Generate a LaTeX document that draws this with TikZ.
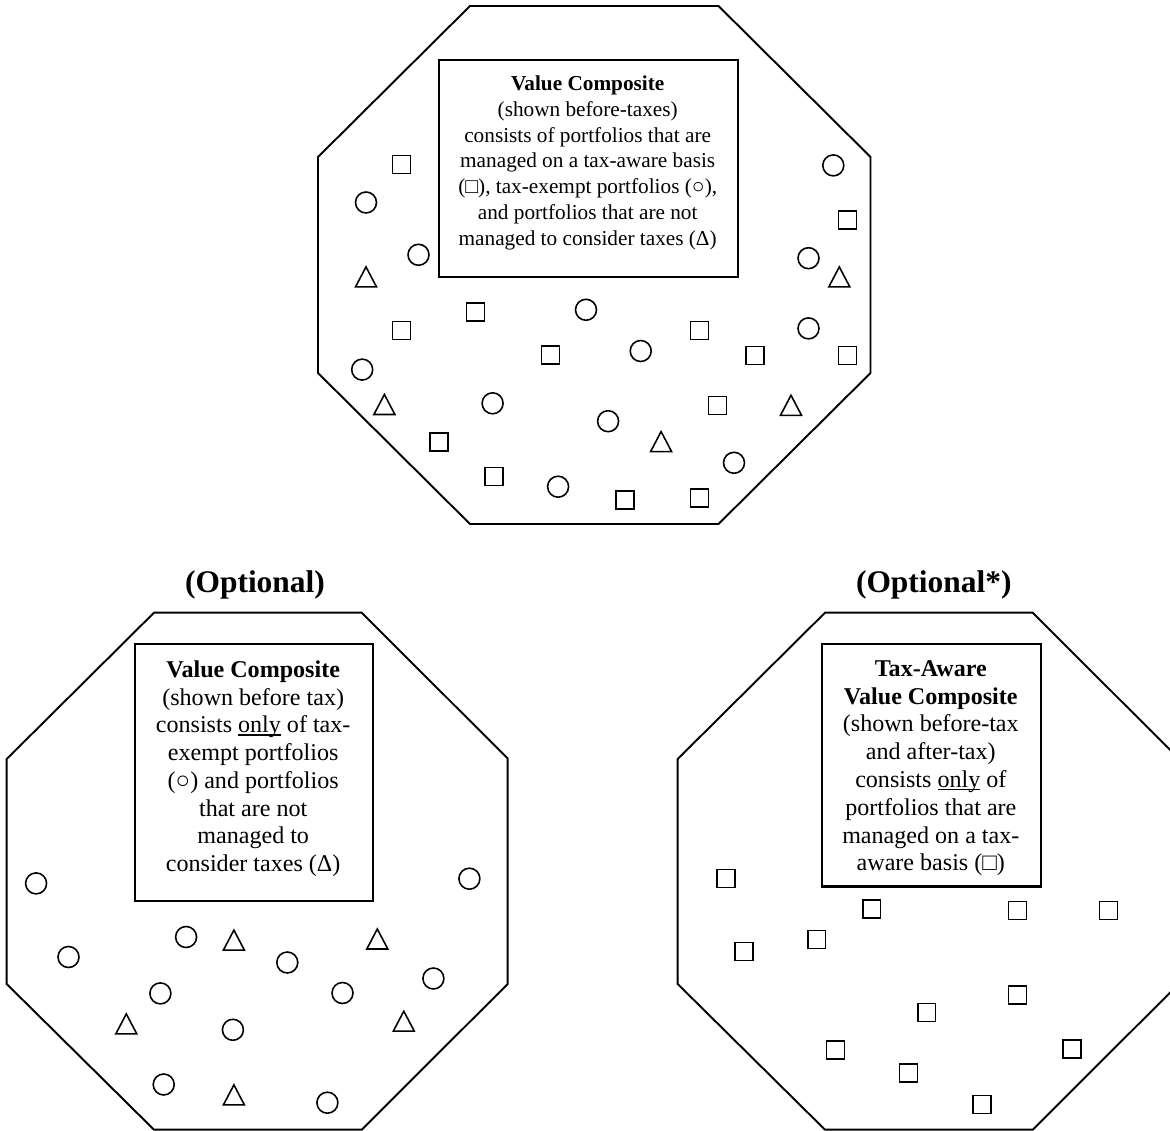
\documentclass[tikz,border=0pt]{standalone}
\usepackage{fontspec}
\setmainfont{Liberation Serif}
\usetikzlibrary{positioning}

\newsavebox\ulbox
\newcommand{\ulword}[1]{\sbox\ulbox{#1}\rlap{\rule[-0.12em]{\wd\ulbox}{0.055em}}\usebox\ulbox}

\begin{document}
\begin{tikzpicture}[x=0.02cm, y=-0.02cm,
        octo/.style = {line width=1.1pt, line join=miter},
        infobox/.style = {draw, line width=1.2pt, inner sep=0pt, anchor=north west},
        boxtext/.style = {align=center, inner sep=0pt, anchor=north},
        smalltext/.style = {font=\fontsize{12.1pt}{14.7pt}\selectfont},
        bigtext/.style = {font=\fontsize{13.7pt}{15.8pt}\selectfont},
        heading/.style = {font=\fontsize{17.9pt}{20pt}\selectfont\bfseries, anchor=base, inner sep=0pt},
        sqmark/.style = {draw, rectangle, minimum size=0.36cm, inner sep=0pt, line width=0.9pt},
        cmark/.style = {draw, circle, minimum size=0.42cm, inner sep=0pt, line width=0.9pt},
        tmark/.style = {line width=0.9pt, line join=miter}
        ]
        \useasboundingbox (0,0) rectangle (1170,1131);
        \clip (0,0) rectangle (1170,1131);

        % the three octagons
        \draw[octo] (470,6) -- (718.5,6) -- (870.5,157) -- (870.5,373) -- (718.5,524) -- (470,524) -- (318,373) -- (318,157) -- cycle;
        \draw[octo] (154,612.7) -- (361.7,612.7) -- (507.7,758.5) -- (507.7,984) -- (361.7,1129.7) -- (154,1129.7) -- (6.7,984) -- (6.7,759) -- cycle;
        \draw[octo] (825,612.7) -- (1032.7,612.7) -- (1178.7,758.5) -- (1178.7,984) -- (1032.7,1129.7) -- (825,1129.7) -- (677.7,984) -- (677.7,759) -- cycle;

        % boxes
        \node[infobox, minimum width=5.974cm, minimum height=4.334cm] (topbox) at (438.3,59.3) {};
        \node[infobox, minimum width=4.754cm, minimum height=5.15cm] (leftbox) at (134.3,642.5) {};
        \node[infobox, minimum width=4.38cm, minimum height=4.85cm] (rightbox) at (821.3,643) {};

        \node[boxtext, smalltext] (toptext) at (587.7,75.3) {\textbf{Value Composite}\\(shown before-taxes)\\consists of portfolios that are\\managed on a tax-aware basis\\(□), tax-exempt portfolios (○),\\and portfolios that are not\\managed to consider taxes (Δ)};
        \node[boxtext, bigtext] (lefttext) at (253.2,660.2) {\textbf{Value Composite}\\(shown before tax)\\consists \ulword{only} of tax-\\exempt portfolios\\(○) and portfolios\\that are not\\managed to\\consider taxes (Δ)};
        \node[boxtext, bigtext] (righttext) at (930.8,660.2) {\textbf{Tax-Aware}\\\textbf{Value Composite}\\(shown before-tax\\and after-tax)\\consists \ulword{only} of\\portfolios that are\\managed on a tax-\\aware basis (□)};

        \node[heading] (optL) at (255,593) {(Optional)};
        \node[heading] (optR) at (933.8,593) {(Optional*)};

        % top composite
        \foreach \x/\y [count=\i] in {401.5/164.4, 847.4/220, 475.6/312.2, 401.5/330.7, 550.4/355, 699.3/330.7, 754.8/355.5, 847.4/355.5, 717.4/405.5, 438.9/442, 494/476.5, 624.8/500, 699.3/498}
            \node[sqmark] (sqT\i) at (\x,\y) {};
        \foreach \x/\y [count=\i] in {833.3/165.4, 366/202.5, 418.5/254.8, 808.5/258.2, 586/309.8, 808.5/328.4, 640.7/351, 362.2/369.6, 492.6/403.3, 608.1/421.2, 734/462.8, 558.1/486.7}
            \node[cmark] (cT\i) at (\x,\y) {};
        \foreach \x/\y in {366/277.4, 839.3/277.4, 384.4/405, 791/405.8, 661.1/442.1}
            \draw[tmark] (\x-10.5,\y+9.5) -- (\x,\y-10.5) -- (\x+10.5,\y+9.5) -- cycle;

        % left composite
        \foreach \x/\y [count=\i] in {36.1/883.4, 68.5/957, 186.1/937, 160.4/993.4, 287.3/962.5, 232.9/1029.8, 342.5/993, 433.4/978.5, 163.7/1084.5, 327.4/1102.7, 469.4/878.7}
            \node[cmark] (cL\i) at (\x,\y) {};
        \foreach \x/\y in {233.9/940.6, 377.3/939.5, 126.3/1024.4, 403.8/1021.7, 233.9/1095.4}
            \draw[tmark] (\x-10.5,\y+9.5) -- (\x,\y-10.5) -- (\x+10.5,\y+9.5) -- cycle;

        % right composite
        \foreach \x/\y [count=\i] in {726/878.6, 871.7/908.9, 1017.5/910.3, 1108.3/910.3, 744/951.5, 816.7/939.5, 1017.5/995.1, 926.7/1012.4, 835.3/1049.9, 1072/1049.2, 908.3/1072.8, 982/1104.5}
            \node[sqmark] (sqR\i) at (\x,\y) {};

    \end{tikzpicture}
\end{document}
